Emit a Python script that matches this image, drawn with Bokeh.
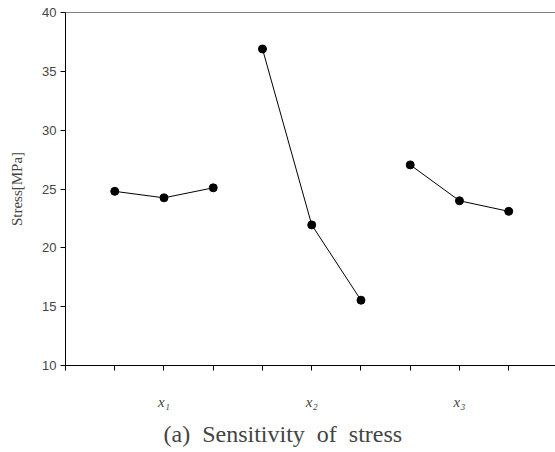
from bokeh.plotting import figure
from bokeh.models import FixedTicker, Range1d, Span, Title
from bokeh.embed import file_html
from bokeh.resources import INLINE

# data
groups = [[1, 2, 3], [4, 5, 6], [7, 8, 9]]
stress = [[24.8, 24.25, 25.1], [36.9, 21.95, 15.55], [27.05, 24.0, 23.1]]
group_labels = ["x\u2081", "x\u2082", "x\u2083"]
group_centers = [2, 5, 8]
y_ticks = [10, 15, 20, 25, 30, 35, 40]
x_ticks = [0, 1, 2, 3, 4, 5, 6, 7, 8, 9]
caption = "(a)\u00a0 Sensitivity\u00a0 of\u00a0 stress"

p = figure(width=555, height=452, output_backend="svg", toolbar_location=None,
           x_range=Range1d(0, 9.95), y_range=Range1d(10, 40),
           min_border_left=65, min_border_right=0, min_border_top=12, min_border_bottom=40)
p.outline_line_color = None
p.grid.visible = False
p.background_fill_color = "white"
p.border_fill_color = "white"

for xs, ys in zip(groups, stress):
    p.line(xs, ys, line_color="black", line_width=1)
    p.scatter(xs, ys, size=8, fill_color="black", line_color="black")

p.add_layout(Span(location=40, dimension="width", line_color="black", line_width=1))

ya = p.yaxis[0]
ya.ticker = FixedTicker(ticks=y_ticks)
ya.major_tick_out = 5
ya.major_tick_in = 0
ya.minor_tick_out = 0
ya.minor_tick_in = 0
ya.major_label_text_font = "Liberation Sans"
ya.major_label_text_font_size = "13px"
ya.major_label_standoff = 4
ya.axis_label = "Stress[MPa]"
ya.axis_label_text_font = "Liberation Serif"
ya.axis_label_text_font_style = "normal"
ya.axis_label_text_font_size = "15px"
ya.axis_label_standoff = 14
ya.axis_line_color = "black"

xa = p.xaxis[0]
xa.ticker = FixedTicker(ticks=x_ticks)
xa.major_tick_out = 5
xa.major_tick_in = 0
xa.minor_tick_out = 0
xa.minor_tick_in = 0
overrides = {t: "" for t in x_ticks}
for c, lab in zip(group_centers, group_labels):
    overrides[c] = lab
xa.major_label_overrides = overrides
xa.major_label_text_font = "Liberation Serif"
xa.major_label_text_font_style = "italic"
xa.major_label_text_font_size = "15px"
xa.major_label_standoff = 23
xa.axis_line_color = "black"

t = Title(text=caption, align="left", offset=98, text_font="Liberation Serif",
          text_font_style="normal", text_font_size="24px", standoff=12)
p.add_layout(t, "below")

open("out.html", "w").write(file_html(p, INLINE))
